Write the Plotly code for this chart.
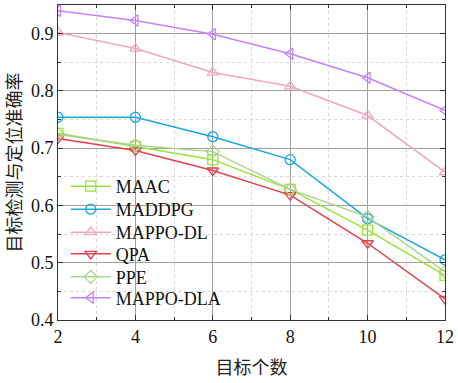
import plotly.graph_objects as go

x = [2, 4, 6, 8, 10, 12]
maac = [0.726, 0.703, 0.680, 0.628, 0.557, 0.478]
maddpg = [0.754, 0.754, 0.720, 0.680, 0.577, 0.505]
mappo_dl = [0.902, 0.874, 0.832, 0.808, 0.757, 0.658]
qpa = [0.717, 0.696, 0.661, 0.618, 0.534, 0.437]
ppe = [0.724, 0.705, 0.694, 0.628, 0.580, 0.484]
mappo_dla = [0.940, 0.923, 0.899, 0.865, 0.823, 0.766]

series = [
    ("MAAC", maac, "#9be23a", "square-open"),
    ("MADDPG", maddpg, "#1aa7de", "circle-open"),
    ("MAPPO-DL", mappo_dl, "#f0a6c2", "triangle-up-open"),
    ("QPA", qpa, "#e2404f", "triangle-down-open"),
    ("PPE", ppe, "#a9d38c", "diamond-open"),
    ("MAPPO-DLA", mappo_dla, "#c383fb", "triangle-left-open"),
]
legend_rows = [0.424, 0.351, 0.278, 0.209, 0.136, 0.070]

fig = go.Figure()
legend_layout = {}
for i, (name, y, c, sym) in enumerate(series):
    lname = "legend" if i == 0 else f"legend{i + 1}"
    fig.add_trace(go.Scatter(x=x, y=y, name=name, mode="lines+markers", legend=lname,
                             showlegend=True,
                             line=dict(color=c, width=1.5),
                             marker=dict(symbol=sym, size=10, color=c, line=dict(color=c, width=1.3))))
    legend_layout[lname] = dict(x=0.02, y=legend_rows[i], xanchor="left", yanchor="middle",
                                bgcolor="rgba(0,0,0,0)",
                                font=dict(family="Liberation Serif", size=18, color="#111"),
                                itemwidth=40)

axis_common = dict(showline=True, linecolor="#333", linewidth=1, mirror="allticks",
                   ticks="inside", ticklen=5, tickcolor="#333",
                   showgrid=True, gridcolor="#a0a0a0", gridwidth=1,
                   zeroline=False, ticklabeloverflow="allow",
                   tickfont=dict(family="Liberation Serif", size=18, color="#111"))

fig.update_xaxes(range=[2, 12], tickvals=[2, 4, 6, 8, 10, 12],
                 minor=dict(dtick=1, showgrid=True, gridcolor="#d8d8d8", griddash="dot", ticks="inside", ticklen=3, tickcolor="#333"),
                 title=dict(text="目标个数", font=dict(family="Noto Sans CJK SC", size=18, color="#222"), standoff=15),
                 **axis_common)
fig.update_yaxes(range=[0.4, 0.95], tickvals=[0.4, 0.5, 0.6, 0.7, 0.8, 0.9],
                 minor=dict(dtick=0.05, tick0=0.4, showgrid=True, gridcolor="#d8d8d8", griddash="dot", ticks="inside", ticklen=3, tickcolor="#333"),
                 title=dict(text="目标检测与定位准确率", font=dict(family="Noto Sans CJK SC", size=18, color="#222"), standoff=4),
                 **axis_common)

fig.update_layout(
    width=458, height=383,
    margin=dict(l=58, r=8, t=4, b=63),
    plot_bgcolor="white", paper_bgcolor="white",
    showlegend=True,
    **legend_layout,
)

fig.write_html("out.html")
